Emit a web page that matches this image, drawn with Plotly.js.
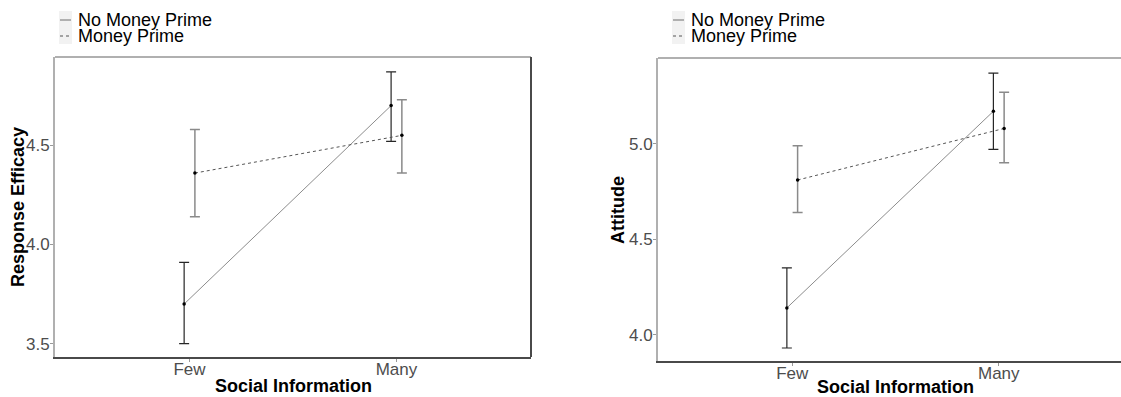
<!DOCTYPE html>
<html>
<head>
<meta charset="utf-8">
<script src="https://cdn.plot.ly/plotly-3.0.1.min.js"></script>
<style>
  html, body { margin: 0; padding: 0; overflow: hidden; background: #fff; }
  #chart { width: 1135px; height: 397px; }
</style>
</head>
<body>
<div id="chart"></div>
<script>
// Social information x money prime: group means with confidence intervals
const categories = ['Few', 'Many'];
const seriesNames = ['No Money Prime', 'Money Prime'];
const xTitle = 'Social Information';
const yTitles = ['Response Efficacy', 'Attitude'];

// Response Efficacy
const effNoMoney     = [3.70, 4.70];
const effNoMoneyLow  = [3.50, 4.52];
const effNoMoneyHigh = [3.91, 4.87];
const effMoney       = [4.36, 4.55];
const effMoneyLow    = [4.14, 4.36];
const effMoneyHigh   = [4.58, 4.73];

// Attitude
const attNoMoney     = [4.14, 5.17];
const attNoMoneyLow  = [3.93, 4.97];
const attNoMoneyHigh = [4.35, 5.37];
const attMoney       = [4.81, 5.08];
const attMoneyLow    = [4.64, 4.90];
const attMoneyHigh   = [4.99, 5.27];

const effTicks = [3.5, 4.0, 4.5];
const attTicks = [4.0, 4.5, 5.0];

const W = 1135, H = 397;
const FONT = 'Liberation Sans, Arial, sans-serif';
const dodge = 0.026;

// category positions with a small dodge per series
const xPos = (off) => categories.map((c, i) => i + 1 + off);

const lineStyles = [
  { line: { color: '#8c8c8c', width: 1, dash: 'solid' }, err: '#262626', errW: 1.2, off: -dodge },
  { line: { color: '#555555', width: 1, dash: 'dot' },   err: '#8a8a8a', errW: 1.5, off: dodge }
];

function series(mean, low, high, idx, xa, ya) {
  const s = lineStyles[idx];
  return {
    type: 'scatter', mode: 'lines+markers',
    name: seriesNames[idx], showlegend: false,
    x: xPos(s.off), y: mean, xaxis: xa, yaxis: ya,
    line: s.line,
    marker: { color: '#000', size: 3.5 },
    error_y: {
      type: 'data', symmetric: false,
      array: high.map((v, i) => v - mean[i]),
      arrayminus: mean.map((v, i) => v - low[i]),
      color: s.err, thickness: s.errW, width: 5
    }
  };
}

const traces = [
  series(effNoMoney, effNoMoneyLow, effNoMoneyHigh, 0, 'x', 'y'),
  series(effMoney, effMoneyLow, effMoneyHigh, 1, 'x', 'y'),
  series(attNoMoney, attNoMoneyLow, attNoMoneyHigh, 0, 'x2', 'y2'),
  series(attMoney, attMoneyLow, attMoneyHigh, 1, 'x2', 'y2')
];

function xAxis(domainPx) {
  return {
    domain: [domainPx[0] / W, domainPx[1] / W],
    range: [0.35, 2.65],
    tickvals: categories.map((c, i) => i + 1), ticktext: categories,
    ticks: 'outside', ticklen: 3, tickwidth: 1, tickcolor: '#999',
    ticklabelstandoff: -7,
    showline: true, linecolor: '#4a4a4a', linewidth: 2,
    showgrid: false, zeroline: false,
    tickfont: { family: FONT, size: 17, color: '#4d4d4d' },
    fixedrange: true
  };
}
function yAxis(domainPx, range, ticks) {
  return {
    domain: [1 - domainPx[1] / H, 1 - domainPx[0] / H],
    range: range,
    tickvals: ticks, ticktext: ticks.map(v => v.toFixed(1)),
    ticks: 'outside', ticklen: 3, tickwidth: 1, tickcolor: '#999',
    ticklabelstandoff: -3,
    showline: true, linecolor: '#b0b0b0', linewidth: 2,
    showgrid: false, zeroline: false,
    tickfont: { family: FONT, size: 17, color: '#4d4d4d' },
    fixedrange: true
  };
}

// panel frame: light top edge, dark right edge
function frame(xr, yr) {
  return [
    { type: 'line', xref: xr + ' domain', yref: yr + ' domain', x0: 0, x1: 1, y0: 1, y1: 1,
      line: { color: '#b0b0b0', width: 2 } },
    { type: 'line', xref: xr + ' domain', yref: yr + ' domain', x0: 1, x1: 1, y0: 0, y1: 1,
      line: { color: '#4a4a4a', width: 2 } }
  ];
}

// axis titles placed beside each panel
function axisTitles(xCenterPx, xTitleYPx, yTitleXPx, yCenterPx, yLabel) {
  const f = { family: FONT, size: 18, color: '#000' };
  return [
    { xref: 'paper', yref: 'paper', x: xCenterPx / W, y: 1 - xTitleYPx / H,
      xanchor: 'center', yanchor: 'middle', showarrow: false,
      text: '<b>' + xTitle + '</b>', font: f },
    { xref: 'paper', yref: 'paper', x: yTitleXPx / W, y: 1 - yCenterPx / H,
      xanchor: 'center', yanchor: 'middle', showarrow: false, textangle: -90,
      text: '<b>' + yLabel + '</b>', font: f }
  ];
}

// legend blocks drawn at the top left of each panel
function legendBlock(leftPx) {
  const shapes = [
    { type: 'rect', xref: 'paper', yref: 'paper',
      x0: leftPx / W, x1: (leftPx + 13) / W, y0: 1 - 44 / H, y1: 1 - 11 / H,
      fillcolor: '#f2f2f2', line: { width: 0 } }
  ];
  const annos = [];
  seriesNames.forEach((name, i) => {
    const yPx = 20 + i * 16;
    shapes.push({ type: 'line', xref: 'paper', yref: 'paper',
      x0: (leftPx + 1) / W, x1: (leftPx + 12) / W, y0: 1 - yPx / H, y1: 1 - yPx / H,
      line: { color: i === 0 ? '#6e6e6e' : '#555', width: 1, dash: i === 0 ? 'solid' : 'dot' } });
    annos.push({ xref: 'paper', yref: 'paper', x: (leftPx + 17) / W, y: 1 - yPx / H,
      xanchor: 'left', yanchor: 'middle', showarrow: false, text: name,
      font: { family: FONT, size: 18, color: '#000' } });
  });
  return { shapes, annos };
}

const legL = legendBlock(59);
const legR = legendBlock(672);

const layout = {
  width: W, height: H,
  margin: { l: 0, r: 0, t: 0, b: 0 },
  paper_bgcolor: '#fff', plot_bgcolor: '#fff',
  showlegend: false,
  xaxis: xAxis([55, 531]),
  yaxis: yAxis([57, 357], [3.433, 4.945], effTicks),
  xaxis2: xAxis([658, 1133]),
  yaxis2: yAxis([58, 361], [3.862, 5.449], attTicks),
  shapes: [...frame('x', 'y'), ...frame('x2', 'y2'), ...legL.shapes, ...legR.shapes],
  annotations: [
    ...legL.annos, ...legR.annos,
    ...axisTitles(293, 386, 18, 207, yTitles[0]),
    ...axisTitles(895.5, 386.5, 618, 210, yTitles[1])
  ]
};
layout.xaxis2.anchor = 'y2';
layout.yaxis2.anchor = 'x2';

Plotly.newPlot('chart', traces, layout, { displayModeBar: false, staticPlot: true });
</script>
</body>
</html>
